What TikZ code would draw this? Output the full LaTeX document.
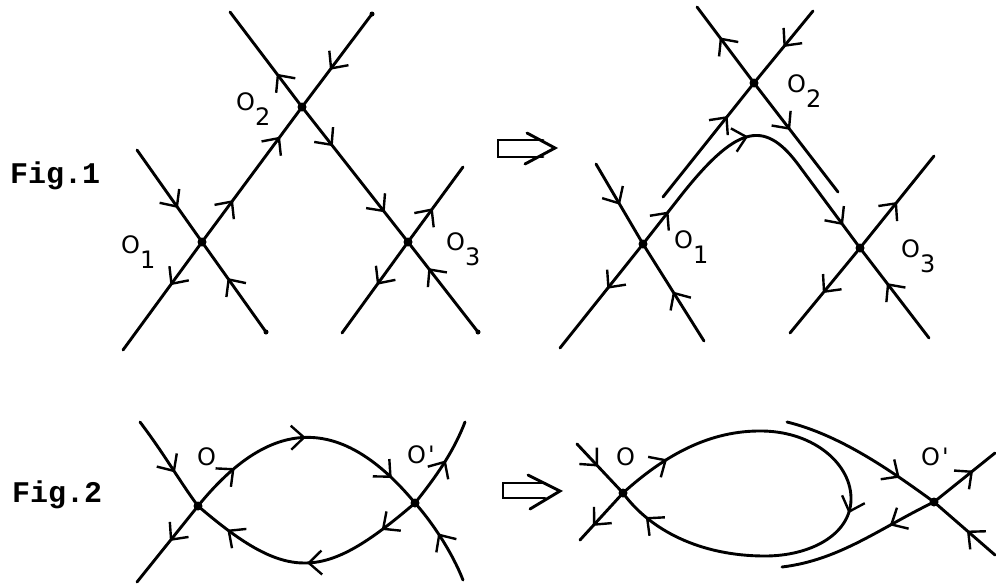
\documentclass[tikz,border=0pt]{standalone}
\usepackage{fontspec}
\setmainfont{DejaVu Sans}
\newfontfamily\figfont{Liberation Mono}
\usetikzlibrary{arrows.meta,decorations.markings}
\begin{document}
\begin{tikzpicture}[x=1pt,y=-1pt,
  curve/.style={line width=2.9pt,line cap=round,line join=round},
  ma/.style={postaction={decorate,decoration={markings,mark=at position #1 with {\arrow[line width=2.4pt]{Straight Barb[length=13pt,width=24pt]}}}}},
  saddle/.style={fill=black},
  lab/.style={anchor=base west,inner sep=0pt,font=\fontsize{24}{24}\selectfont},
  figlab/.style={anchor=base west,inner sep=0pt,font=\figfont\bfseries\fontsize{30}{30}\selectfont},
  bigarr/.style={line width=2.9pt,line join=miter,line cap=round}]
\useasboundingbox (0,0) rectangle (996,584);

% ---------- Fig.1 left ----------
\coordinate (L1) at (202,242); \coordinate (L2) at (302,107); \coordinate (L3) at (408,242);
\coordinate (La) at (230,12);  \coordinate (Lb) at (372,14);  \coordinate (Lc) at (137,150);
\coordinate (Ld) at (123,350); \coordinate (Le) at (266,332); \coordinate (Lf) at (463,167);
\coordinate (Lg) at (342,333); \coordinate (Lh) at (478,332);
\draw[curve,ma=0.35] (L2) -- (La);
\draw[curve,ma=0.6] (Lb) -- (L2);
\draw[curve,ma=0.31,ma=0.78] (L1) -- (L2);
\draw[curve,ma=0.29,ma=0.78] (L2) -- (L3);
\draw[curve,ma=0.63] (Lc) -- (L1);
\draw[curve,ma=0.4] (L1) -- (Ld);
\draw[curve,ma=0.6] (Le) -- (L1);
\draw[curve,ma=0.45] (L3) -- (Lf);
\draw[curve,ma=0.47] (L3) -- (Lg);
\draw[curve,ma=0.71] (Lh) -- (L3);
\foreach \p in {L1,L2,L3} \fill[saddle] (\p) circle[radius=4.5pt];
\foreach \p in {Lb,Le,Lh} \fill[saddle] (\p) circle[radius=2.5pt];
\node[lab] (tL1) at (121,253) {O\raisebox{-15pt}{1}};
\node[lab] (tL2) at (236,110) {O\raisebox{-15pt}{2}};
\node[lab] (tL3) at (446,250) {O\raisebox{-15pt}{3}};

% ---------- Fig.1 right ----------
\coordinate (R1) at (643,244); \coordinate (R2) at (754,83); \coordinate (R3) at (860,248);
\coordinate (RA) at (697,7);   \coordinate (RB) at (813,11);  \coordinate (RC) at (838,192);
\coordinate (RD) at (663,197); \coordinate (RE) at (596,164); \coordinate (RF) at (704,341);
\coordinate (RG) at (560,348); \coordinate (RH) at (934,156); \coordinate (RI) at (790,333);
\coordinate (RJ) at (929,338);
\coordinate (RP1) at (683,193); \coordinate (RP2) at (800,167);
\draw[curve,ma=0.6] (R2) -- (RA);
\draw[curve,ma=0.5] (RB) -- (R2);
\draw[curve,ma=0.71] (RD) -- (R2);
\draw[curve,ma=0.43] (R2) -- (RC);
\draw[curve,ma=0.51] (RE) -- (R1);
\draw[curve,ma=0.43] (R1) -- (RG);
\draw[curve,ma=0.51] (RF) -- (R1);
\draw[curve,ma=0.13,ma=0.48,ma=0.91] (R1) -- (RP1) .. controls (739,123) and (766,120) .. (RP2) -- (R3);
\draw[curve,ma=0.5] (R3) -- (RH);
\draw[curve,ma=0.53] (R3) -- (RI);
\draw[curve,ma=0.61] (RJ) -- (R3);
\foreach \p in {R1,R2,R3} \fill[saddle] (\p) circle[radius=4.5pt];
\node[lab] (tR1) at (674,248) {O\raisebox{-15pt}{1}};
\node[lab] (tR2) at (787,92) {O\raisebox{-15pt}{2}};
\node[lab] (tR3) at (901,257) {O\raisebox{-15pt}{3}};

% ---------- Fig.2 left ----------
\coordinate (PO) at (198,506); \coordinate (PQ) at (415,503);
\coordinate (PTL) at (140,422); \coordinate (PBL) at (137,582);
\coordinate (PTR) at (465,422); \coordinate (PBR) at (463,580);
\draw[curve,ma=0.6] (PTL) .. controls (165,455) and (180,482) .. (PO);
\draw[curve,ma=0.46] (PO) -- (PBL);
\draw[curve,ma=0.2,ma=0.5,ma=0.87] (PO) .. controls (271,416) and (341,414) .. (PQ);
\draw[curve,ma=0.17,ma=0.5,ma=0.85] (PQ) .. controls (324,581) and (289,584) .. (PO);
\draw[curve,ma=0.55] (PQ) .. controls (440,472) and (455,448) .. (PTR);
\draw[curve,ma=0.58] (PBR) .. controls (452,552) and (432,522) .. (PQ);
\foreach \p in {PO,PQ} \fill[saddle] (\p) circle[radius=4.5pt];
\node[lab] (tPO) at (197,465) {O};
\node[lab] (tPQ) at (407,463) {O\kern2pt\textquotesingle};

% ---------- Fig.2 right ----------
\coordinate (QO) at (623,493); \coordinate (QQ) at (934,502);
\coordinate (QTL) at (577,444); \coordinate (QBL) at (580,540);
\coordinate (QS) at (787,422); \coordinate (QBR) at (995,555);
\coordinate (QTR) at (995,453); \coordinate (QW) at (782,567);
\coordinate (QT) at (763,431); \coordinate (QR) at (851,500); \coordinate (QB) at (765,556);
\draw[curve,ma=0.46] (QTL) -- (QO);
\draw[curve,ma=0.7] (QO) -- (QBL);
\draw[curve,ma=0.1,ma=0.53,ma=0.94] (QO) .. controls (665,455) and (710,430) .. (QT)
   .. controls (815,432) and (852,465) .. (QR)
   .. controls (850,535) and (810,556) .. (QB)
   .. controls (700,556) and (650,530) .. (QO);
\draw[curve,ma=0.75] (QS) .. controls (840,435) and (890,470) .. (QQ);
\draw[curve,ma=0.46] (QBR) -- (QQ);
\draw[curve,ma=0.64] (QQ) -- (QTR);
\draw[curve,ma=0.3] (QQ) .. controls (880,528) and (840,560) .. (QW);
\foreach \p in {QO,QQ} \fill[saddle] (\p) circle[radius=4.5pt];
\node[lab] (tQO) at (616,465) {O};
\node[lab] (tQQ) at (921,465) {O\kern2pt\textquotesingle};

% ---------- labels and big arrows ----------
\node[figlab] (f1) at (10,183) {Fig.1};
\node[figlab] (f2) at (12,502) {Fig.2};
\draw[bigarr] (543,140) -- (498,140) -- (498,157) -- (543,157);
\draw[bigarr] (527,133) -- (555,148) -- (525,164);
\draw[bigarr] (545,483) -- (503,483) -- (503,498) -- (545,498);
\draw[bigarr] (528,475) -- (560,491) -- (530,509);
\end{tikzpicture}
\end{document}
